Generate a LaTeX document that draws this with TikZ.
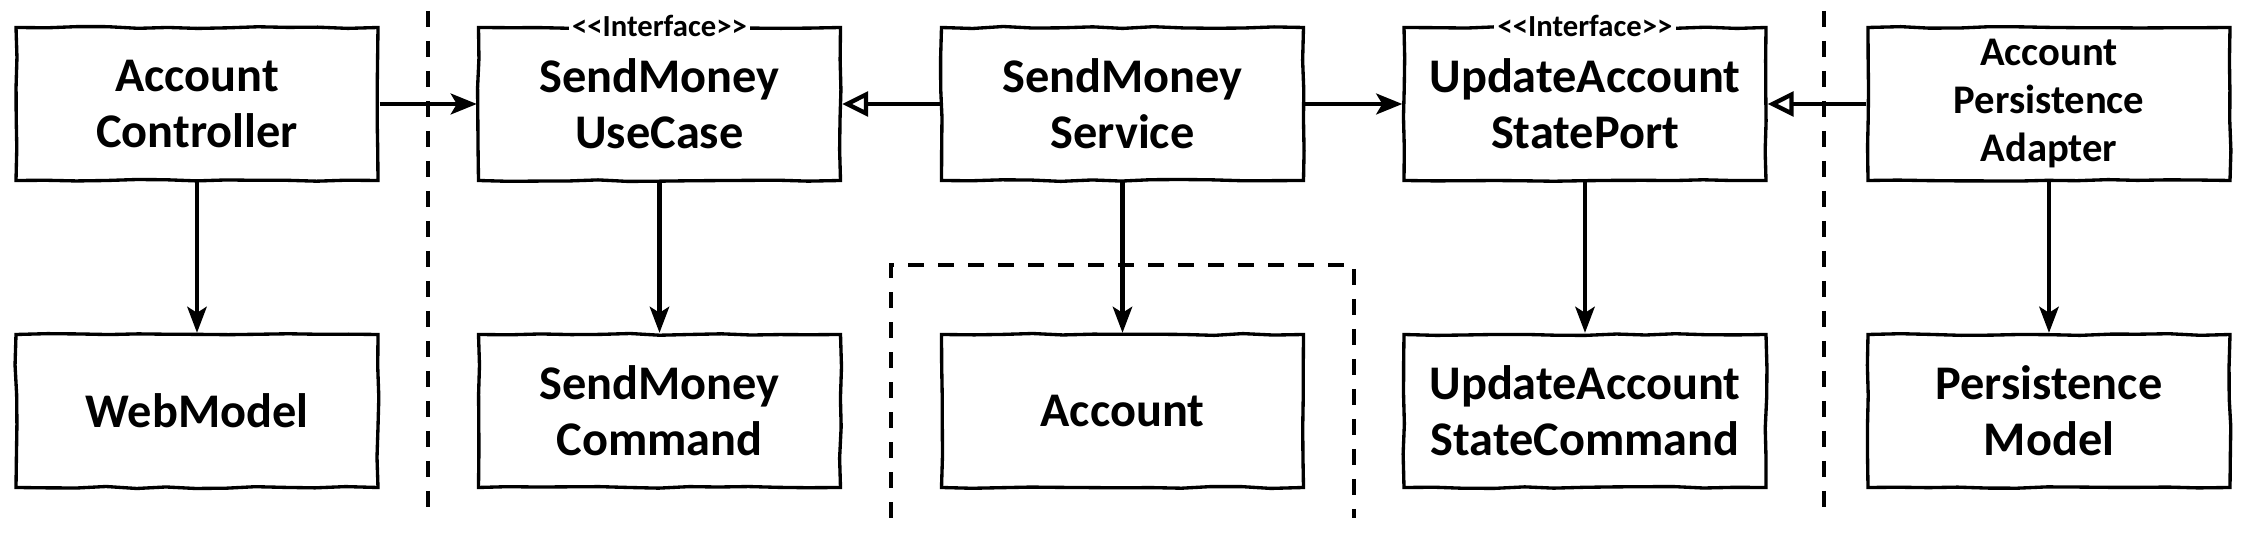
\documentclass[tikz,border=0pt]{standalone}
\usepackage{fontspec}
\setmainfont{Carlito}[Ligatures=TeXOff]
\usetikzlibrary{arrows.meta,decorations.pathmorphing,backgrounds}
\begin{document}
\begin{tikzpicture}[x=0.3pt,y=-0.3pt,
  box/.style={rectangle, draw, line width=1pt, fill=white,
    minimum width=108.6pt, minimum height=45.9pt, inner sep=0pt,
    align=center, font=\bfseries\fontsize{14.5}{16.8}\selectfont,
    decorate, decoration={random steps, segment length=9pt, amplitude=0.3pt}},
  smallbox/.style={box, font=\bfseries\fontsize{12.2}{14.4}\selectfont},
  iface/.style={fill=white, inner xsep=1pt, inner ysep=0pt,
    font=\bfseries\fontsize{9.2}{9}\selectfont},
  dep/.style={line width=1.4pt, -{Stealth[length=7.8pt,width=6.2pt,inset=1.8pt]}},
  vdep/.style={line width=1.3pt, -{Stealth[length=7.8pt,width=5.8pt,inset=1.8pt]}},
  impl/.style={line width=1.4pt, -{Triangle[open,length=7.8pt,width=7.4pt,fill=white,line width=1.3pt]}},
  sep/.style={line width=1.4pt, dash pattern=on 4.8pt off 4.2pt},
  shade/.style={fill=black, opacity=0.18}
]
\useasboundingbox (0,0) rectangle (2256,552);
\fill[white] (0,0) rectangle (2256,552);

% separators
\coordinate (d1t) at (428,11);  \coordinate (d1b) at (428,519);
\coordinate (d2t) at (1824,11); \coordinate (d2b) at (1824,519);
\draw[sep] (d1t) -- (d1b);
\draw[sep] (d2t) -- (d2b);
\coordinate (g1) at (891,518); \coordinate (g2) at (891,265);
\coordinate (g3) at (1354,265); \coordinate (g4) at (1354,518);
\draw[sep] (g1) -- (g2) -- (g3) -- (g4);

% boxes
\pgfmathsetseed{7}
\node[box] (ac) at (197,104) {Account\\Controller};
\node[box] (wm) at (197,411) {WebModel};
\node[box] (uc) at (659.5,104) {SendMoney\\UseCase};
\node[box] (smc) at (659.5,411) {SendMoney\\Command};
\node[box] (sv) at (1122.5,104) {SendMoney\\Service};
\node[box] (acc) at (1122.5,411) {Account};
\node[box] (up) at (1585,104) {UpdateAccount\\StatePort};
\node[box] (usc) at (1585,411) {UpdateAccount\\StateCommand};
\node[smallbox] (ad) at (2049,104) {Account\\Persistence\\Adapter};
\node[box] (pm) at (2049,411) {Persistence\\Model};

\node[iface] (ucl) at (uc.north) {<<Interface>>};
\node[iface] (upl) at (up.north) {<<Interface>>};

% shadows
\begin{scope}[on background layer]
\foreach \n in {ac,wm,uc,smc,sv,acc,up,usc,ad,pm}
  \fill[shade] ([shift={(1.6pt,-1.8pt)}]\n.south west) rectangle ([shift={(1.6pt,-1.8pt)}]\n.north east);
\end{scope}

% connectors
\draw[dep] (ac.east) -- (uc.west);
\draw[impl] (sv.west) -- (uc.east);
\draw[dep] (sv.east) -- (up.west);
\draw[impl] (ad.west) -- (up.east);
\draw[vdep] (ac.south) -- (wm.north);
\draw[vdep] (uc.south) -- (smc.north);
\draw[vdep] (sv.south) -- (acc.north);
\draw[vdep] (up.south) -- (usc.north);
\draw[vdep] (ad.south) -- (pm.north);
\end{tikzpicture}
\end{document}
